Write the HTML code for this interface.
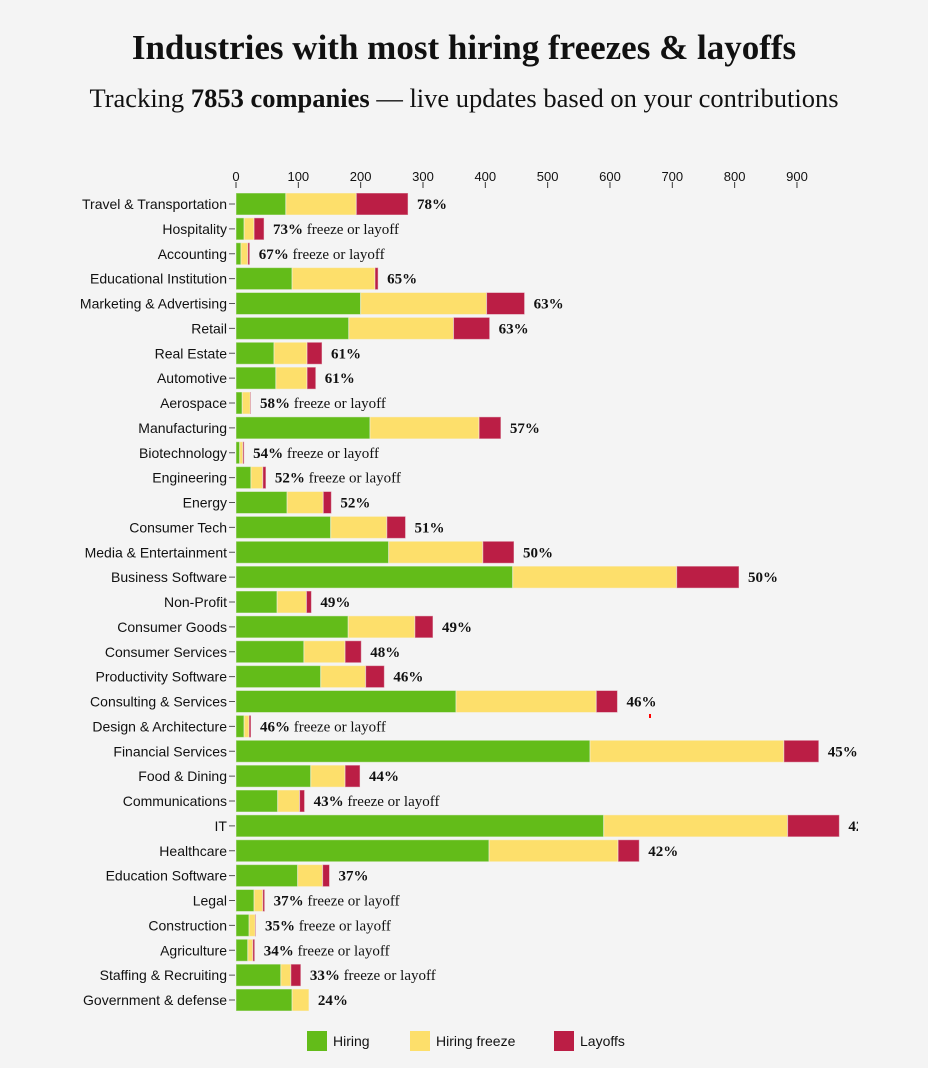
<!DOCTYPE html>
<html><head><meta charset="utf-8">
<style>
body{margin:0;background:#f4f4f4;width:928px;height:1068px;overflow:hidden}
h1{position:absolute;top:28px;left:0;width:928px;text-align:center;margin:0;font:bold 35px "Liberation Serif",serif;color:#111}
.sub{position:absolute;top:83px;left:0;width:928px;text-align:center;font:26.5px "Liberation Serif",serif;color:#111}
svg{position:absolute;left:0;top:0}
</style></head><body>
<h1>Industries with most hiring freezes &amp; layoffs</h1>
<div class="sub">Tracking <b>7853 companies</b> — live updates based on your contributions</div>
<svg id="c" width="928" height="1068">
<defs><clipPath id="clip"><rect x="0" y="140" width="858" height="900"/></clipPath></defs>
<g id="ticks"></g><g id="plot" clip-path="url(#clip)"></g><g id="legend"></g>
<rect x="649" y="714" width="2" height="4" fill="#f00"/>
</svg>
<script>
const categories=["Travel & Transportation","Hospitality","Accounting","Educational Institution","Marketing & Advertising","Retail","Real Estate","Automotive","Aerospace","Manufacturing","Biotechnology","Engineering","Energy","Consumer Tech","Media & Entertainment","Business Software","Non-Profit","Consumer Goods","Consumer Services","Productivity Software","Consulting & Services","Design & Architecture","Financial Services","Food & Dining","Communications","IT","Healthcare","Education Software","Legal","Construction","Agriculture","Staffing & Recruiting","Government & defense"];
const hiring=[80,13,8,90,200,181,61,64,10,215,6,24,82,152,245,444,66,180,109,136,353,13,568,120,67,590,406,99,29,21,19,72,90];
const freeze=[113,16,11,133,202,168,53,50,13,175,5,19,58,90,151,263,47,107,66,72,225,8,311,55,35,295,207,40,14,10,8,16,27];
const layoffs=[83,16,3,5,61,58,24,14,1,35,2,5,13,30,50,100,8,29,26,30,34,3,56,24,8,83,34,11,3,1,3,16,0];
const pctLabels=["78%","73%","67%","65%","63%","63%","61%","61%","58%","57%","54%","52%","52%","51%","50%","50%","49%","49%","48%","46%","46%","46%","45%","44%","43%","42%","42%","37%","37%","35%","34%","33%","24%"];
const longLabel=[0,1,1,0,0,0,0,0,1,0,1,1,0,0,0,0,0,0,0,0,0,1,0,0,1,0,0,0,1,1,1,1,0];
const ticks=[0,100,200,300,400,500,600,700,800,900];
const NS="http://www.w3.org/2000/svg";
const x=v=>236+v*0.6233;
const y=i=>204+i*24.875;
function mk(t,a,p){const e=document.createElementNS(NS,t);for(const k in a)e.setAttribute(k,a[k]);p.appendChild(e);return e;}
const tg=document.getElementById('ticks'),pg=document.getElementById('plot'),lg=document.getElementById('legend');
ticks.forEach(t=>{
 const l=mk('line',{x1:x(t),x2:x(t),y1:182,y2:188,stroke:'#333'},tg);
 
 
 const tx=mk('text',{x:x(t),y:181,'text-anchor':'middle','font-family':'Liberation Sans,sans-serif','font-size':13,fill:'#111'},tg);
 tx.textContent=t;
 
 
});
const cols=['#63bc19','#fddf6b','#bb1e45'];
categories.forEach((c,i)=>{
 const cy=y(i);
 const tl=mk('line',{x1:229,x2:235,y1:cy,y2:cy,stroke:'#555'},tg);
 
 
 const lab=mk('text',{x:227,y:cy+5,'text-anchor':'end','font-family':'Liberation Sans,sans-serif','font-size':14,fill:'#111'},tg);
 lab.textContent=c;
 
 
 const vals=[hiring[i],freeze[i],layoffs[i]];let acc=0;
 const names=['bar-hiring','bar-freeze','bar-layoffs'];
 vals.forEach((v,k)=>{
  if(v>0){const r=mk('rect',{x:x(acc),y:cy-11,width:v*0.6233,height:22,fill:cols[k],stroke:'#f4f4f4','stroke-opacity':0.5,'stroke-width':1},pg);
  
  }
  acc+=v;
 });
 const tot=hiring[i]+freeze[i]+layoffs[i];
 const t=mk('text',{x:x(tot)+9,y:cy+5,'font-family':'Liberation Serif,serif','font-size':15,fill:'#111'},pg);
 
 
 const b=mk('tspan',{'font-weight':'bold'},t);b.textContent=pctLabels[i];
 if(longLabel[i]){const s=mk('tspan',{},t);s.textContent=' freeze or layoff';}
});
const leg=[['Hiring',307],['Hiring freeze',410],['Layoffs',554]];
leg.forEach((l,k)=>{
 const r=mk('rect',{x:l[1],y:1031,width:20,height:20,fill:cols[k]},lg);
 
 
 const t=mk('text',{x:l[1]+26,y:1046,'font-family':'Liberation Sans,sans-serif','font-size':14,fill:'#111'},lg);
 t.textContent=l[0];
 
 
});
</script>
</body></html>
